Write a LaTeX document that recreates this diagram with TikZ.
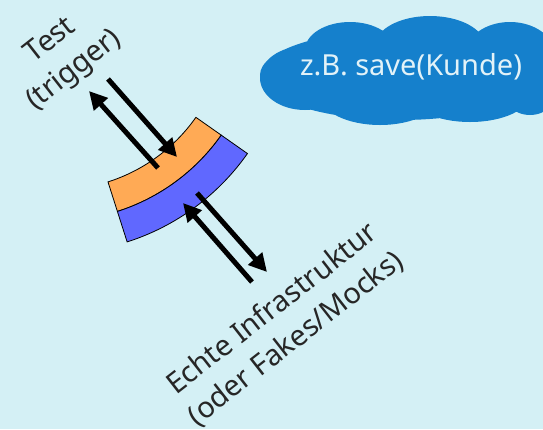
\documentclass[tikz,border=0pt]{standalone}
\usepackage{fontspec}
\setmainfont{Noto Sans}
\usetikzlibrary{arrows.meta}
\definecolor{bgcyan}{HTML}{D4F0F5}
\definecolor{portorange}{HTML}{FFAA55}
\definecolor{adapterblue}{HTML}{6068FF}
\definecolor{cloudblue}{HTML}{1580CC}
\definecolor{cloudtext}{HTML}{E2F2F8}
\tikzset{
  band/.style={draw=black, line width=0.8pt},
  callarrow/.style={line width=5pt, -{Triangle[length=18pt,width=18pt]}},
  label/.style={font=\fontsize{29}{38}\selectfont, align=center, rotate=38, text=black!85}
}
\begin{document}
\begin{tikzpicture}[x=1pt, y=-1pt]
            % background
            \fill[bgcyan] (0,0) rectangle (543,429);
            \useasboundingbox (0,0) rectangle (543,429);
            % port and adapter ring pieces
            \coordinate (ctr) at (56,19);
            \draw[band, fill=portorange] ([shift={(72.3:171)}]ctr) arc[start angle=72.3, end angle=35.1, radius=171]
                -- ([shift={(35.1:202)}]ctr) arc[start angle=35.1, end angle=72.3, radius=202] -- cycle;
            \draw[band, fill=adapterblue] ([shift={(72.3:202)}]ctr) arc[start angle=72.3, end angle=35.1, radius=202]
                -- ([shift={(35.1:234)}]ctr) arc[start angle=35.1, end angle=72.3, radius=234] -- cycle;
            % cloud
            \fill[cloudblue] (400,75) ellipse[x radius=140, y radius=45]
                (305,78) ellipse[x radius=45, y radius=32]
                (350,50) ellipse[x radius=45, y radius=28]
                (430,46) ellipse[x radius=55, y radius=30]
                (510,55) ellipse[x radius=45, y radius=33]
                (530,85) ellipse[x radius=30, y radius=30]
                (380,95) ellipse[x radius=60, y radius=30]
                (470,94) ellipse[x radius=60, y radius=28];
            % labels
            \node[label] (test) at (63,56) {Test\\(trigger)};
            \node[label] (infra) at (284,324) {Echte Infrastruktur\\(oder Fakes/Mocks)};
            \node[text=cloudtext, font=\fontsize{29}{36}\selectfont] (call) at (411,67) {z.B. save(Kunde)};
            % arrow ends
            \coordinate (testout) at (158,168);
            \coordinate (testin) at (89,91);
            \coordinate (teststart) at (108,79);
            \coordinate (portin) at (177,157);
            \coordinate (infraout) at (252,282);
            \coordinate (adapterin) at (183,203);
            \coordinate (adapterout) at (197,193);
            \coordinate (infrain) at (267,272);
            \draw[callarrow] (testout) -- (testin);
            \draw[callarrow] (teststart) -- (portin);
            \draw[callarrow] (infraout) -- (adapterin);
            \draw[callarrow] (adapterout) -- (infrain);
\end{tikzpicture}
\end{document}
